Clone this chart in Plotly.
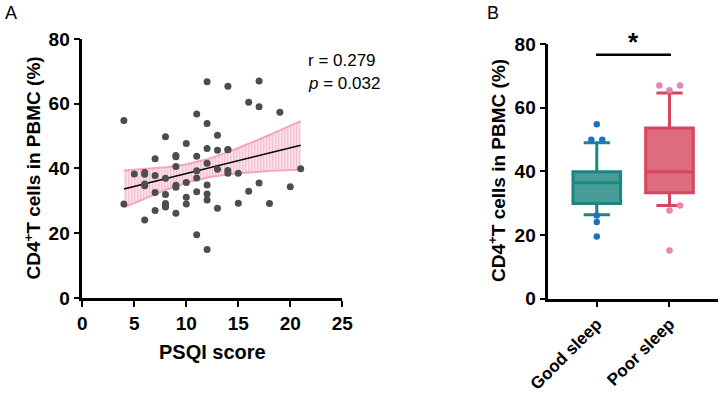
import numpy as np
import plotly.graph_objects as go

# ---------------- Panel A data: PSQI score vs CD4+T % ----------------
psqi = [4, 4,
        5,
        6, 6, 6, 6, 6,
        7, 7, 7, 7,
        8, 8, 8, 8, 8, 8,
        9, 9, 9, 9, 9, 9,
        10, 10, 10, 10,
        11, 11, 11, 11, 11, 11,
        12, 12, 12, 12, 12, 12, 12, 12,
        13, 13, 13, 13,
        14, 14, 14, 14, 14,
        15, 15,
        16, 16,
        17, 17, 17,
        18,
        19,
        20,
        21]
cd4 = [54.8, 29.0,
       38.3,
       38.8, 38.2, 35.2, 34.7, 24.1,
       43.0, 37.8, 32.6, 27.0,
       49.8, 37.0, 32.0, 29.2, 28.5, 28.1,
       44.0, 43.6, 40.6, 34.8, 34.2, 26.2,
       47.7, 35.7, 31.1, 29.0,
       56.8, 43.8, 39.3, 37.1, 32.8, 19.5,
       66.8, 53.9, 46.2, 41.6, 34.9, 32.1, 30.3, 15.0,
       50.3, 45.6, 39.8, 27.7,
       65.4, 45.9, 45.8, 39.4, 38.5,
       38.5, 29.3,
       60.5, 33.0,
       67.0, 59.1, 35.5,
       29.2,
       57.4,
       34.4,
       39.9]
r_text = "r = 0.279"
p_text = "<i>p</i> = 0.032"

# ---------------- Panel B data: box plot summaries ----------------
groups = ["Good sleep", "Poor sleep"]
q1 = [29.9, 33.3]
median = [36.4, 39.9]
q3 = [39.9, 53.6]
lower_whisker = [26.4, 29.3]
upper_whisker = [49.0, 64.6]
good_outliers = [54.8, 49.9, 49.9, 26.1, 24.1, 19.5]
good_offsets = [0.0, -0.075, 0.075, 0.0, 0.0, 0.0]
poor_outliers = [67.0, 67.0, 65.5, 27.7, 29.3, 15.1]
poor_offsets = [-0.14, 0.145, 0.0, 0.0, 0.145, 0.0]
sig_label = "*"

FONT = "Liberation Sans"

# regression + 95% CI from the data
x = np.array(psqi, float)
y = np.array(cd4, float)
n = len(x)
b, a = np.polyfit(x, y, 1)
resid = y - (a + b * x)
s = np.sqrt(np.sum(resid ** 2) / (n - 2))
sxx = np.sum((x - x.mean()) ** 2)
xs = np.linspace(x.min(), x.max(), 60)
ys = a + b * xs
se = s * np.sqrt(1.0 / n + (xs - x.mean()) ** 2 / sxx)
tval = 2.0
up = ys + tval * se
lo = ys - tval * se

fig = go.Figure()

# CI band
fig.add_trace(go.Scatter(
    x=list(xs) + list(xs[::-1]), y=list(up) + list(lo[::-1]),
    mode="lines", fill="toself",
    line=dict(color="rgba(240,160,180,0)", width=0),
    fillcolor="rgba(248,215,224,0.55)",
    fillpattern=dict(shape="|", fgcolor="rgba(236,150,170,0.6)",
                     bgcolor="rgba(250,222,230,0.7)", size=3, solidity=0.4),
    hoverinfo="skip", showlegend=False, xaxis="x", yaxis="y"))
for edge in (up, lo):
    fig.add_trace(go.Scatter(x=xs, y=edge, mode="lines",
                             line=dict(color="#f2a7b8", width=2),
                             showlegend=False, xaxis="x", yaxis="y"))
fig.add_trace(go.Scatter(x=xs, y=ys, mode="lines",
                         line=dict(color="black", width=1.5),
                         showlegend=False, xaxis="x", yaxis="y"))
fig.add_trace(go.Scatter(x=psqi, y=cd4, mode="markers",
                         marker=dict(color="#4d4d4d", size=7),
                         showlegend=False, xaxis="x", yaxis="y", cliponaxis=False))

# Panel B boxes
box_fill = ["#479c98", "#de6c7f"]
box_line = ["#1b8783", "#d84560"]
for i, g in enumerate(groups):
    fig.add_trace(go.Box(
        x=[i], q1=[q1[i]], median=[median[i]], q3=[q3[i]],
        lowerfence=[lower_whisker[i]], upperfence=[upper_whisker[i]],
        fillcolor=box_fill[i], line=dict(color=box_line[i], width=3),
        width=0.655, whiskerwidth=0.55, boxpoints=False,
        showlegend=False, xaxis="x2", yaxis="y2"))

fig.add_trace(go.Scatter(x=[0 + o for o in good_offsets], y=good_outliers, mode="markers",
                         marker=dict(color="#1f72bd", size=6.5),
                         showlegend=False, xaxis="x2", yaxis="y2"))
fig.add_trace(go.Scatter(x=[1 + o for o in poor_offsets], y=poor_outliers, mode="markers",
                         marker=dict(color="#e486b5", size=6.5),
                         showlegend=False, xaxis="x2", yaxis="y2"))

axis_common = dict(showline=True, linecolor="black", linewidth=2.5,
                   ticks="outside", ticklen=6, tickwidth=2, tickcolor="black",
                   showgrid=False, zeroline=False, automargin=False,
                   tickfont=dict(family=FONT, size=19, color="black", weight="bold"))

fig.update_layout(
    template="none",
    width=720, height=394, margin=dict(l=0, r=0, t=0, b=0, autoexpand=False),
    paper_bgcolor="white", plot_bgcolor="white",
    xaxis=dict(domain=[0.1143, 0.4754], range=[0, 25], tickvals=[0, 5, 10, 15, 20, 25],
               anchor="y", **axis_common),
    yaxis=dict(domain=[0.2437, 0.901], range=[0, 80], tickvals=[0, 20, 40, 60, 80],
               anchor="x", **axis_common),
    xaxis2=dict(domain=[0.7615, 0.9972], range=[-0.667, 1.667], tickvals=[0, 1],
                ticktext=groups, tickangle=-45, anchor="y2",
                **{**axis_common, "tickfont": dict(family=FONT, size=17, color="black", weight="bold")}),
    yaxis2=dict(domain=[0.2419, 0.8883], range=[0, 80], tickvals=[0, 20, 40, 60, 80],
                anchor="x2", **axis_common),
    shapes=[dict(type="line", xref="x2", yref="y2", x0=-0.01, x1=1.02, y0=76.6, y1=76.6,
                 line=dict(color="black", width=2.5))],
)

ann = []
title_font = dict(family=FONT, size=19, color="black", weight="bold")
ytitle = "CD4<sup>+</sup>T cells in PBMC (%)"
ann.append(dict(text=ytitle, x=32, y=168.5, textangle=-90, font=title_font))
ann.append(dict(text=ytitle, x=497, y=171, textangle=-90, font=title_font))
ann.append(dict(text="PSQI score", x=212, y=352, font=dict(family=FONT, size=20, color="black", weight="bold")))
ann.append(dict(text="A", x=11, y=13, font=dict(family=FONT, size=18, color="black")))
ann.append(dict(text="B", x=493, y=13, font=dict(family=FONT, size=18, color="black")))
ann.append(dict(text=sig_label, x=633, y=42, font=dict(family=FONT, size=26, color="black", weight="bold")))
annotations = []
for a_ in ann:
    annotations.append(dict(text=a_["text"], xref="paper", yref="paper",
                            x=a_["x"] / 720, y=1 - a_["y"] / 394,
                            xanchor="center", yanchor="middle", showarrow=False,
                            textangle=a_.get("textangle", 0), font=a_["font"]))
annotations.append(dict(text=r_text, xref="paper", yref="paper", x=306 / 720, y=1 - 60 / 394,
                        xanchor="left", yanchor="middle", showarrow=False,
                        font=dict(family=FONT, size=17, color="black")))
annotations.append(dict(text=p_text, xref="paper", yref="paper", x=306 / 720, y=1 - 84 / 394,
                        xanchor="left", yanchor="middle", showarrow=False,
                        font=dict(family=FONT, size=17, color="black")))
fig.update_layout(annotations=annotations)

fig.write_html("out.html")
